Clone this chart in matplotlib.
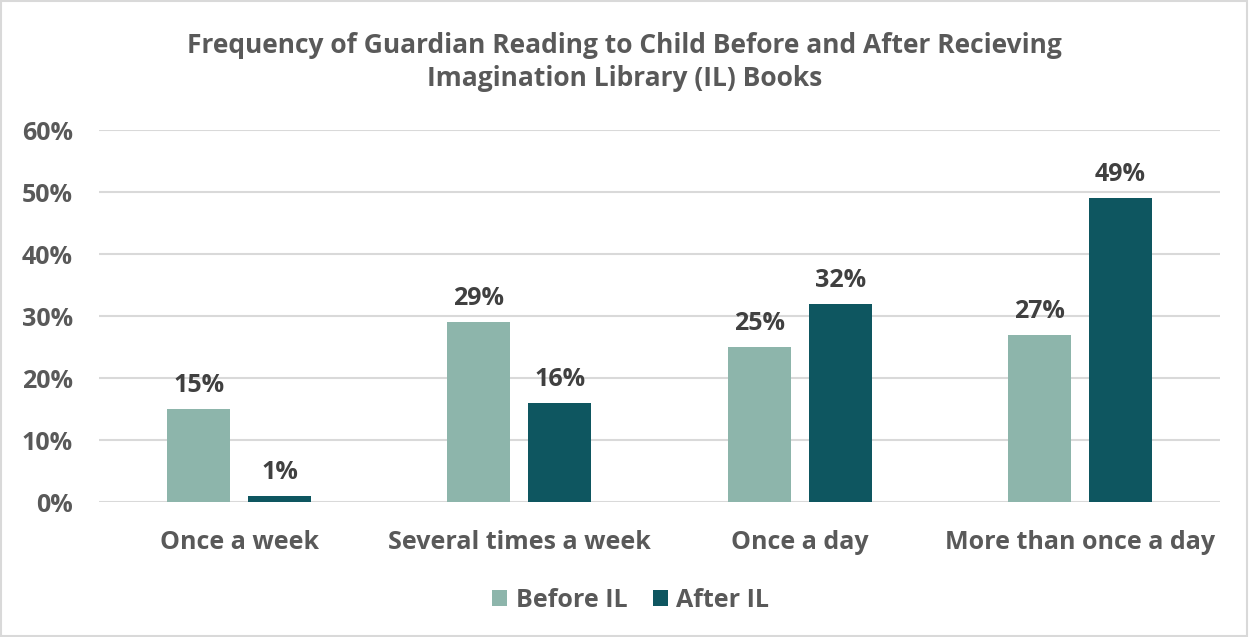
import matplotlib
matplotlib.use("Agg")
import matplotlib.pyplot as plt
import numpy as np
from matplotlib.patches import Rectangle

categories = ["Once a week", "Several times a week", "Once a day", "More than once a day"]
before_il = [15, 29, 25, 27]
after_il = [1, 16, 32, 49]
series_names = ["Before IL", "After IL"]
yticks = [0, 10, 20, 30, 40, 50, 60]

c_before = "#8DB5AB"
c_after = "#0E5660"
txt = "#595959"
lbl = "#404040"

plt.rcParams['font.family'] = ['Open Sans', 'DejaVu Sans']
plt.rcParams['font.weight'] = 'bold'

fig = plt.figure(figsize=(12.49, 6.37), dpi=100)
fig.patches.append(Rectangle((0.001, 0.001), 0.997, 0.997, transform=fig.transFigure,
                             fill=False, edgecolor="#D9D9D9", linewidth=1.5))
ax = fig.add_axes([0.0793, 0.2119, 0.8975, 0.584])

x = np.arange(len(categories))
w = 0.225
off = 0.1445
b1 = ax.bar(x - off, before_il, w, color=c_before, label=series_names[0], zorder=3)
b2 = ax.bar(x + off, after_il, w, color=c_after, label=series_names[1], zorder=3)

for bars, vals in ((b1, before_il), (b2, after_il)):
    for r, v in zip(bars, vals):
        ax.annotate(f"{v}%", (r.get_x() + r.get_width() / 2, v), xytext=(0, 8),
                    textcoords="offset points", ha="center", va="bottom",
                    fontsize=18, fontweight="bold", color=lbl)

ax.set_xlim(-0.5, len(categories) - 0.5)
ax.set_ylim(0, 60)
ax.set_yticks(yticks)
ax.set_yticklabels([f"{t}%" for t in yticks])
ax.set_xticks(x)
ax.set_xticklabels(categories)
ax.tick_params(axis="both", length=0, labelsize=18, labelcolor=txt)
ax.tick_params(axis="y", pad=19)
ax.tick_params(axis="x", pad=20)
for lab in ax.get_xticklabels() + ax.get_yticklabels():
    lab.set_fontweight("bold")
ax.grid(axis="y", color="#D9D9D9", linewidth=1.5, zorder=0)
for s in ax.spines.values():
    s.set_visible(False)

fig.text(0.5, 0.903, "Frequency of Guardian Reading to Child Before and After Recieving\nImagination Library (IL) Books",
         ha="center", va="center", fontsize=19, fontweight="bold", color=txt, linespacing=1.3)

fig.legend(handles=[b1, b2], labels=series_names, loc="center", bbox_to_anchor=(0.505, 0.058),
           ncol=2, frameon=False, labelcolor=txt, handlelength=0.6, handleheight=0.6,
           handletextpad=0.35, columnspacing=1.0, prop={"weight": "bold", "size": 18})

fig.savefig("out.png", dpi=100)
